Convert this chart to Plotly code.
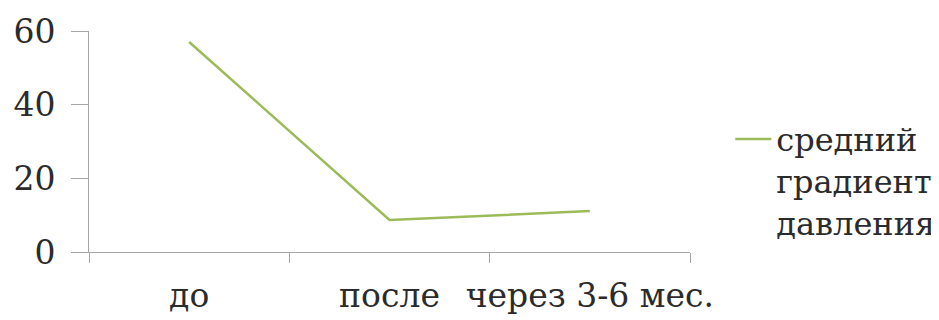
import plotly.graph_objects as go

categories = ["до", "после", "через 3-6 мес."]
values = [57, 8.7, 11.1]
series_name = "средний<br>градиент<br>давления"
y_ticks = [0, 20, 40, 60]

font_family = "DejaVu Serif"
text_color = "#2b2b2b"
axis_color = "#a6a6a6"

fig = go.Figure()
fig.add_trace(go.Scatter(
    x=categories, y=values, mode="lines", name=series_name,
    line=dict(color="#9bbb59", width=2.5),
))

fig.update_layout(
    width=931, height=312,
    margin=dict(l=81, r=249, t=23, b=68, autoexpand=False),
    paper_bgcolor="white", plot_bgcolor="white",
    font=dict(family=font_family, size=33, color=text_color),
    showlegend=True,
    legend=dict(x=1.067, y=0.635, xanchor="left", yanchor="top",
                valign="top", font=dict(size=32), itemwidth=36,
                tracegroupgap=0, bgcolor="rgba(0,0,0,0)"),
)
fig.update_xaxes(
    type="category", range=[-0.5, 2.5], automargin=False, tickangle=0,
    showline=True, linecolor=axis_color, linewidth=1,
    ticks="outside", tickson="boundaries", ticklen=10, tickcolor=axis_color,
    showgrid=False, zeroline=False, ticklabelstandoff=14,
)
fig.update_yaxes(
    range=[0, 60], tickvals=y_ticks, automargin=False,
    showline=True, linecolor=axis_color, linewidth=1,
    ticks="outside", ticklen=17, tickcolor=axis_color,
    showgrid=False, zeroline=False, ticklabelstandoff=9,
)

fig.write_html("out.html")
